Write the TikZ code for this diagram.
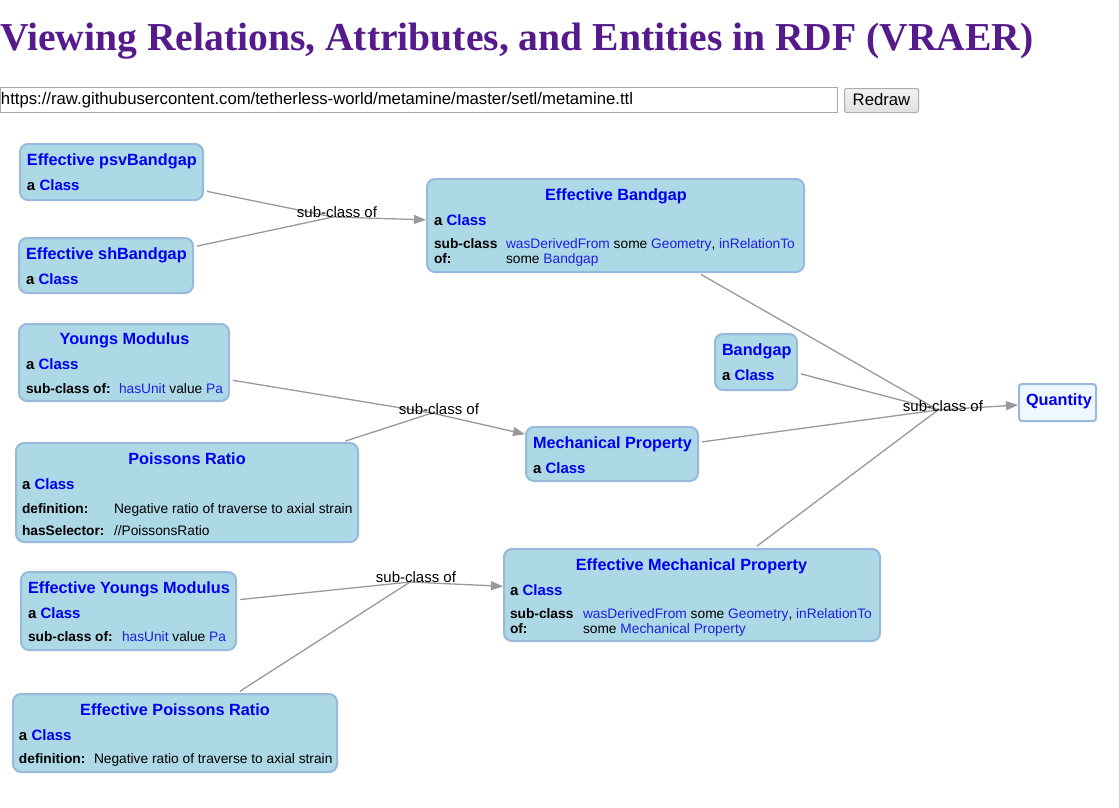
\documentclass[tikz,border=0pt]{standalone}
\usepackage{fontspec}
\setmainfont{Liberation Sans}
\newfontfamily\titlefont{Liberation Serif}
\usetikzlibrary{arrows.meta}
\definecolor{linkblue}{RGB}{0,0,238}
\definecolor{valblue}{RGB}{30,30,225}
\definecolor{boxfill}{RGB}{173,216,230}
\definecolor{boxline}{RGB}{150,185,220}
\definecolor{edgegray}{RGB}{153,153,153}
\definecolor{titlepurple}{RGB}{85,26,139}
\definecolor{qfill}{RGB}{240,248,255}
\definecolor{inputline}{RGB}{169,169,169}
\definecolor{btnline}{RGB}{173,173,173}
\newcommand{\lnk}[1]{\textcolor{valblue}{#1}}
\newcommand{\acls}{a \textcolor{linkblue}{Class}}
\tikzset{
  box/.style={draw=boxline, fill=boxfill, line width=2pt, rounded corners=8pt, inner sep=0pt},
  qbox/.style={draw=boxline, fill=qfill, line width=2pt, rounded corners=3pt, inner sep=0pt},
  txt/.style={anchor=base west, inner sep=0pt, outer sep=0pt},
  ttl/.style={txt, font=\fontsize{16.25}{19}\selectfont\bfseries, text=linkblue},
  ctl/.style={ttl, anchor=base},
  acl/.style={txt, font=\fontsize{15}{18}\selectfont\bfseries},
  att/.style={txt, font=\fontsize{13.75}{16}\selectfont\bfseries},
  val/.style={txt, font=\fontsize{13.75}{16}\selectfont},
  lbl/.style={anchor=base, inner sep=0pt, font=\fontsize{15}{18}\selectfont},
  edge/.style={draw=edgegray, line width=1.3pt, shorten <=3pt},
  arr/.style={draw=edgegray, line width=1.3pt, -{Triangle[length=12pt,width=9pt]}},
}
\begin{document}
\begin{tikzpicture}[x=1pt,y=-1pt]
\useasboundingbox (0,0) rectangle (1119,807);
\fill[white] (0,0) rectangle (1119,807);

% header
\node[anchor=base west, inner sep=0pt, text=titlepurple, font=\titlefont\fontsize{39.6}{44}\selectfont\bfseries] (title) at (0,50) {Viewing Relations, Attributes, and Entities in RDF (VRAER)};
\node[draw=inputline, line width=1pt, minimum width=837pt, minimum height=25pt, inner sep=0pt] (input) at (419,99.5) {};
\node[txt, font=\fontsize{16.7}{19}\selectfont] (url) at (1,104.5) {https://raw.githubusercontent.com/tetherless-world/metamine/master/setl/metamine.ttl};
\node[draw=btnline, line width=1pt, top color=white!95!black, bottom color=white!88!black, rounded corners=2pt, minimum width=74pt, minimum height=24pt, inner sep=0pt] (btn) at (881.5,100.5) {};
\node[lbl, font=\fontsize{16.7}{19}\selectfont] (btntext) at (881.5,105) {Redraw};

% boxes
\node[box, minimum width=183pt, minimum height=56pt] (psv) at (111.5,172) {};
\node[box, minimum width=174pt, minimum height=55pt] (sh) at (106,265.5) {};
\node[box, minimum width=377pt, minimum height=93pt] (effbg) at (615.5,225.5) {};
\node[box, minimum width=210pt, minimum height=77pt] (young) at (124,362.5) {};
\node[box, minimum width=342pt, minimum height=99pt] (poisson) at (187,492.5) {};
\node[box, minimum width=172pt, minimum height=54pt] (mech) at (612,454) {};
\node[box, minimum width=82pt, minimum height=56pt] (bandgap) at (756,362) {};
\node[qbox, minimum width=77pt, minimum height=37pt] (quantity) at (1057.5,402.5) {};
\node[box, minimum width=215pt, minimum height=78pt] (effyoung) at (128.5,611) {};
\node[box, minimum width=376pt, minimum height=92pt] (effmech) at (692,595) {};
\node[box, minimum width=324pt, minimum height=78pt] (effpoisson) at (175,733) {};

% junction points
\coordinate (c1) at (333,217);
\coordinate (c2) at (432,413);
\coordinate (c3) at (938,410);
\coordinate (c4) at (410,582);

% connectors
\draw[edge] (psv) -- (c1);
\draw[edge] (sh) -- (c1);
\draw[arr] (c1) -- (effbg);
\draw[edge] (young) -- (c2);
\draw[edge] (poisson) -- (c2);
\draw[arr] (c2) -- (mech);
\draw[edge] (effbg) -- (c3);
\draw[edge] (bandgap) -- (c3);
\draw[edge] (mech) -- (c3);
\draw[edge] (effmech) -- (c3);
\draw[arr] (c3) -- (quantity);
\draw[edge] (effyoung) -- (c4);
\draw[edge] (effpoisson) -- (c4);
\draw[arr] (c4) -- (effmech);

\node[lbl] (l1) at (337,217) {sub-class of};
\node[lbl] (l2) at (439,414) {sub-class of};
\node[lbl] (l3) at (943,411) {sub-class of};
\node[lbl] (l4) at (416,582) {sub-class of};

% texts
\node[ttl] (psvT) at (27,165) {Effective psvBandgap};
\node[acl] (psvA) at (27,190) {\acls};

\node[ttl] (shT) at (26,259) {Effective shBandgap};
\node[acl] (shA) at (26,284) {\acls};

\node[ctl] (effbgT) at (616,200) {Effective Bandgap};
\node[acl] (effbgA) at (434,225) {\acls};
\node[att] (effbgS1) at (434,248) {sub-class};
\node[att] (effbgS2) at (434,263) {of:};
\node[val] (effbgV1) at (506,248) {\lnk{wasDerivedFrom} some \lnk{Geometry}, \lnk{inRelationTo}};
\node[val] (effbgV2) at (506,263) {some \lnk{Bandgap}};

\node[ctl] (youngT) at (124.5,344) {Youngs Modulus};
\node[acl] (youngA) at (26,369) {\acls};
\node[att] (youngS) at (26,393) {sub-class of:};
\node[val] (youngV) at (119,393) {\lnk{hasUnit} value \lnk{Pa}};

\node[ctl] (poissonT) at (187,464) {Poissons Ratio};
\node[acl] (poissonA) at (22,489) {\acls};
\node[att] (poissonD) at (22,513) {definition:};
\node[val] (poissonDV) at (114,513) {Negative ratio of traverse to axial strain};
\node[att] (poissonH) at (22,535) {hasSelector:};
\node[val] (poissonHV) at (114,535) {//PoissonsRatio};

\node[ttl] (mechT) at (533,448) {Mechanical Property};
\node[acl] (mechA) at (533,473) {\acls};

\node[ttl] (bandgapT) at (722,355) {Bandgap};
\node[acl] (bandgapA) at (722,380) {\acls};

\node[ttl] (quantityT) at (1026,405) {Quantity};

\node[ttl] (effyoungT) at (28,593) {Effective Youngs Modulus};
\node[acl] (effyoungA) at (28,618) {\acls};
\node[att] (effyoungS) at (28,641) {sub-class of:};
\node[val] (effyoungV) at (122,641) {\lnk{hasUnit} value \lnk{Pa}};

\node[ctl] (effmechT) at (691.5,570) {Effective Mechanical Property};
\node[acl] (effmechA) at (510,595) {\acls};
\node[att] (effmechS1) at (510,618) {sub-class};
\node[att] (effmechS2) at (510,633) {of:};
\node[val] (effmechV1) at (583,618) {\lnk{wasDerivedFrom} some \lnk{Geometry}, \lnk{inRelationTo}};
\node[val] (effmechV2) at (583,633) {some \lnk{Mechanical Property}};

\node[ctl] (effpoissonT) at (175,715) {Effective Poissons Ratio};
\node[acl] (effpoissonA) at (19,740) {\acls};
\node[att] (effpoissonD) at (19,763) {definition:};
\node[val] (effpoissonDV) at (94,763) {Negative ratio of traverse to axial strain};
\end{tikzpicture}
\end{document}
